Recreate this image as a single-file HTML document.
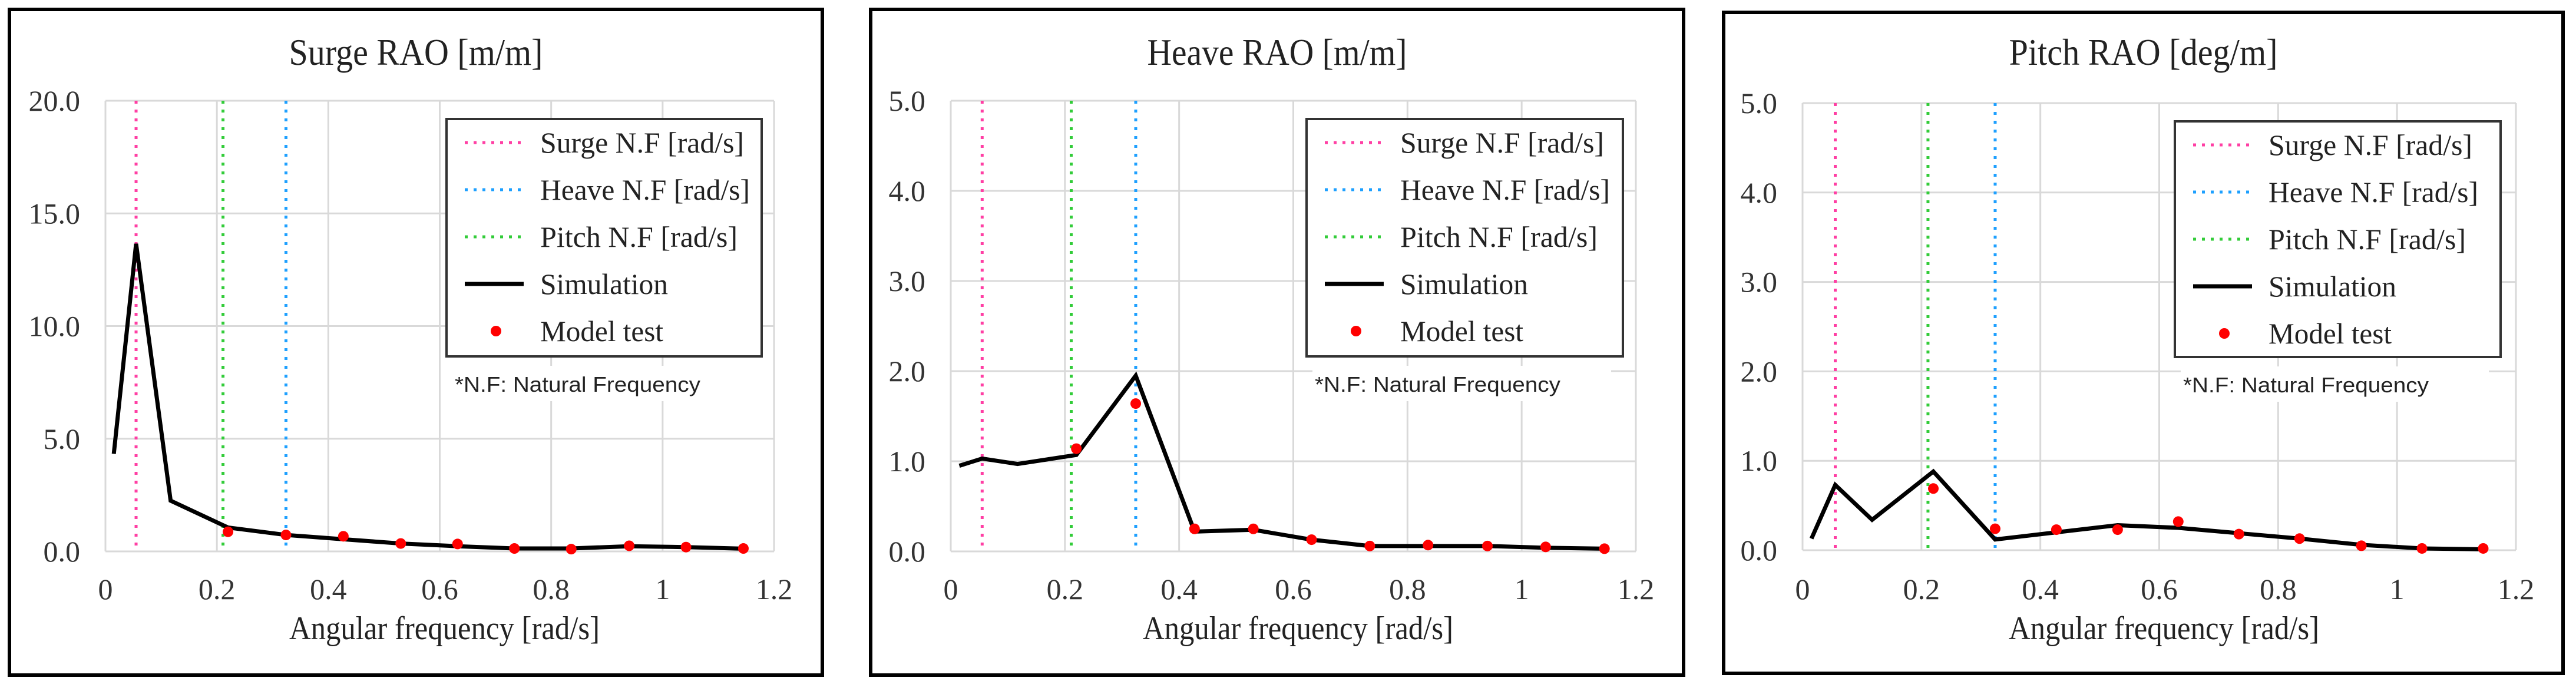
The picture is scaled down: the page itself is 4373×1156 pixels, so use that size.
<!DOCTYPE html>
<html><head><meta charset="utf-8"><style>
html,body{margin:0;padding:0;background:#fff;}
svg{display:block;}
</style></head><body>
<svg id="root" xmlns="http://www.w3.org/2000/svg" width="4373" height="1156" viewBox="0 0 4373 1156"></svg>
<script>
// ---- shared data ----
const xTickLabels = ["0","0.2","0.4","0.6","0.8","1","1.2"];
const xTickValues = [0,0.2,0.4,0.6,0.8,1.0,1.2];
const simFreq = [0.015,0.055,0.117,0.22,0.324,0.427,0.53,0.632,0.734,0.836,0.94,1.042,1.145];
const testFreq = [0.22,0.324,0.427,0.53,0.632,0.734,0.836,0.94,1.042,1.145];
const nfNames = ["Surge N.F [rad/s]","Heave N.F [rad/s]","Pitch N.F [rad/s]"];
const nfValues = [0.055,0.324,0.211];
const nfColors = ["#ff3fa4","#1ea0ff","#33cc3a"];

// ---- surge ----
const surgeTitle = "Surge RAO [m/m]";
const surgeYTicks = [0,5,10,15,20];
const surgeYLabels = ["0.0","5.0","10.0","15.0","20.0"];
const surgeSim = [4.33,13.65,2.25,1.06,0.73,0.54,0.35,0.23,0.13,0.13,0.23,0.19,0.12];
const surgeTest = [0.87,0.73,0.67,0.35,0.33,0.13,0.1,0.25,0.19,0.13];
// ---- heave ----
const heaveTitle = "Heave RAO [m/m]";
const heaveYTicks = [0,1,2,3,4,5];
const heaveYLabels = ["0.0","1.0","2.0","3.0","4.0","5.0"];
const heaveSim = [0.95,1.03,0.97,1.07,1.95,0.22,0.24,0.13,0.06,0.06,0.06,0.04,0.03];
const heaveTest = [1.14,1.64,0.25,0.25,0.13,0.06,0.07,0.06,0.05,0.03];
// ---- pitch ----
const pitchTitle = "Pitch RAO [deg/m]";
const pitchYTicks = [0,1,2,3,4,5];
const pitchYLabels = ["0.0","1.0","2.0","3.0","4.0","5.0"];
const pitchSim = [0.13,0.73,0.34,0.88,0.12,0.2,0.28,0.25,0.19,0.13,0.06,0.02,0.01];
const pitchTest = [0.69,0.24,0.23,0.23,0.32,0.18,0.13,0.05,0.02,0.02];

const NS = "http://www.w3.org/2000/svg";
const root = document.getElementById('root');
function mk(tag, attrs, parent){
  const e = document.createElementNS(NS, tag);
  for (const k in attrs) e.setAttribute(k, attrs[k]);
  (parent||root).appendChild(e);
  return e;
}
const SERIF = '"Liberation Serif", serif';
const SANS = '"Liberation Sans", sans-serif';

function chart(cfg){
  const g = mk('g', {});
  
  
  const fr = mk('rect', {x:cfg.frame[0], y:cfg.frame[1], width:cfg.frame[2]-cfg.frame[0], height:cfg.frame[3]-cfg.frame[1], fill:'#fff', stroke:'#000', 'stroke-width':6}, g);
  
  
  const L=cfg.plot[0], T=cfg.plot[1], R=cfg.plot[2], B=cfg.plot[3];
  const yMax = cfg.yTicks[cfg.yTicks.length-1];
  const sx = v => L + (v/1.2)*(R-L);
  const sy = v => B - (v/yMax)*(B-T);
  // title
  const t = mk('text', {x:(cfg.frame[0]+cfg.frame[2])/2, y:110, 'text-anchor':'middle', 'font-family':SERIF, 'font-size':64, fill:'#222', textLength:cfg.titleW, lengthAdjust:'spacingAndGlyphs'}, g);
  t.textContent = cfg.title;
  
  
  // grid
  cfg.yTicks.forEach((v,i)=>{
    const ln = mk('line', {x1:L, x2:R, y1:sy(v), y2:sy(v), stroke:'#d9d9d9', 'stroke-width':3}, g);
    
    
    const tl = mk('text', {x:L-43, y:sy(v)+17, 'text-anchor':'end', 'font-family':SERIF, 'font-size':50, fill:'#333'}, g);
    tl.textContent = cfg.yLabels[i];
    
    
  });
  xTickValues.forEach((v,i)=>{
    const ln = mk('line', {x1:sx(v), x2:sx(v), y1:T, y2:B, stroke:'#d9d9d9', 'stroke-width':3}, g);
    
    
    const tl = mk('text', {x:sx(v), y:1017, 'text-anchor':'middle', 'font-family':SERIF, 'font-size':50, fill:'#333'}, g);
    tl.textContent = xTickLabels[i];
    
    
  });
  // axis title
  const at = mk('text', {x:(L+R)/2+8, y:1085, 'text-anchor':'middle', 'font-family':SERIF, 'font-size':56, fill:'#222', textLength:527, lengthAdjust:'spacingAndGlyphs'}, g);
  at.textContent = 'Angular frequency [rad/s]';
  
  
  // natural frequency lines
  nfValues.forEach((v,i)=>{
    const ln = mk('line', {x1:sx(v), x2:sx(v), y1:T, y2:B, stroke:nfColors[i], 'stroke-width':5, 'stroke-dasharray':'5 10'}, g);
    
    
  });
  // simulation line
  const pts = cfg.sim.map((v,i)=> sx(simFreq[i]) + ',' + sy(v)).join(' ');
  const pl = mk('polyline', {points:pts, fill:'none', stroke:'#000', 'stroke-width':7, 'stroke-linejoin':'miter'}, g);
  
  
  cfg.test.forEach((v,i)=>{
    const c = mk('circle', {cx:sx(testFreq[i]), cy:sy(v), r:9, fill:'#ff0000'}, g);
    
    
  });
  // legend
  const lx=cfg.legend[0], ly=cfg.legend[1], lw=cfg.legend[2], lh=cfg.legend[3];
  const lg = mk('g', {}, g);
  
  
  mk('rect', {x:lx, y:ly, width:lw, height:lh, fill:'#fff', stroke:'#333', 'stroke-width':4}, lg);
  const names = nfNames.concat(['Simulation','Model test']);
  const widths = [346,356,335,217,209];
  names.forEach((n,i)=>{
    const cy = ly + 40 + i*80;
    if (i<3){
      mk('line', {x1:lx+31, x2:lx+131, y1:cy, y2:cy, stroke:nfColors[i], 'stroke-width':5, 'stroke-dasharray':'5 10'}, lg);
    } else if (i===3){
      mk('line', {x1:lx+31, x2:lx+131, y1:cy, y2:cy, stroke:'#000', 'stroke-width':7}, lg);
    } else {
      mk('circle', {cx:lx+84, cy:cy, r:9, fill:'#ff0000'}, lg);
    }
    const tx = mk('text', {x:lx+159, y:cy+17, 'font-family':SERIF, 'font-size':50, fill:'#222', textLength:widths[i], lengthAdjust:'spacingAndGlyphs'}, lg);
    tx.textContent = n;
    
    
  });
  // note
  mk('rect', {x:lx+10, y:ly+lh+16, width:lw-30, height:60, fill:'#fff'}, g);
  const nt = mk('text', {x:lx+14, y:ly+lh+60, 'font-family':SANS, 'font-size':36, fill:'#222', textLength:417, lengthAdjust:'spacingAndGlyphs'}, g);
  nt.textContent = '*N.F: Natural Frequency';
  
  
}

chart({key:'surge', title:surgeTitle, titleW:431, frame:[16,16,1396,1146], plot:[179,171,1314,936], yTicks:surgeYTicks, yLabels:surgeYLabels, sim:surgeSim, test:surgeTest, legend:[758,202,535,403]});
chart({key:'heave', title:heaveTitle, titleW:441, frame:[1478,16,2858,1146], plot:[1614,171,2777,936], yTicks:heaveYTicks, yLabels:heaveYLabels, sim:heaveSim, test:heaveTest, legend:[2218,202,537,403]});
chart({key:'pitch', title:pitchTitle, titleW:456, frame:[2926,21,4351,1143], plot:[3060,175,4271,934], yTicks:pitchYTicks, yLabels:pitchYLabels, sim:pitchSim, test:pitchTest, legend:[3692,206,553,400]});
</script>
</body></html>
